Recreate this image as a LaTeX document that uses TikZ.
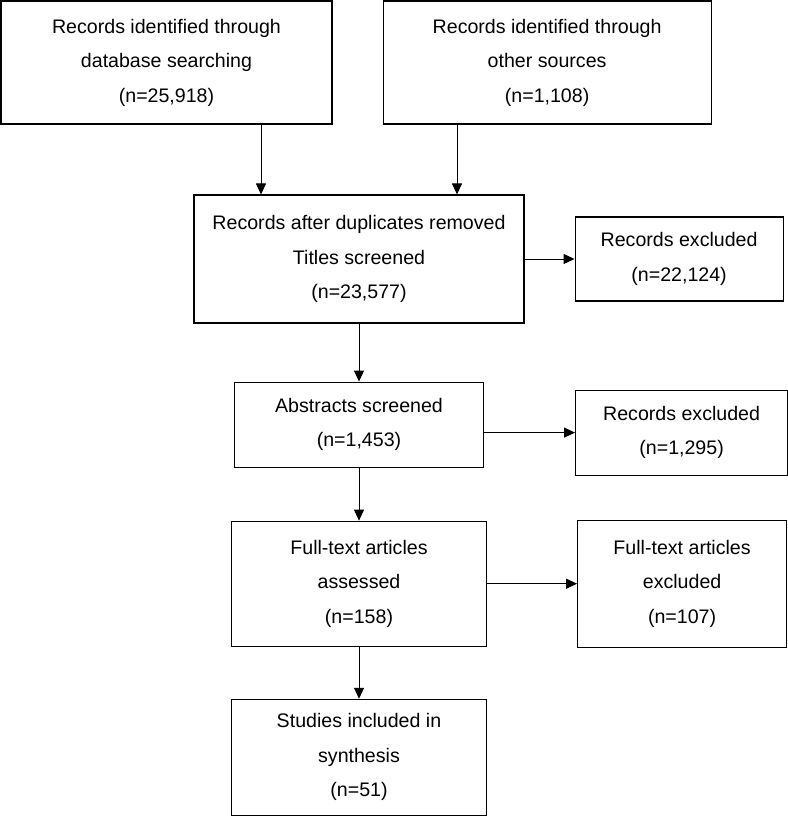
\documentclass[tikz,border=0pt]{standalone}
\usepackage{fontspec}
\setmainfont{Liberation Sans}
\usepackage{tikz}
\usetikzlibrary{positioning}
\usetikzlibrary{arrows.meta}

\begin{document}
\begin{tikzpicture}[node distance=50pt, auto,
    box/.style={draw, rectangle, line width=1.1pt, align=center, inner sep=2pt,
      font=\fontsize{19.6}{34.5}\selectfont},
    flow/.style={-{Triangle[length=11pt,width=10pt]}, line width=1pt}]
    \useasboundingbox (0pt,0pt) rectangle (787pt,-816pt);
    % Nodes
    \node [box, minimum width=331pt, minimum height=123pt] (rec1) at (166.5pt,-62.5pt) {Records identified through\\database searching\\(n=25,918)};
    \node [box, minimum width=328pt, minimum height=123pt, right=50pt of rec1] (rec2) {Records identified through\\other sources\\(n=1,108)};

    \node [box, minimum width=330pt, minimum height=128pt] (dedup) at (359pt,-259pt) {Records after duplicates removed\\Titles screened\\(n=23,577)};
    \node [box, minimum width=208pt, minimum height=84pt, right=50pt of dedup] (excl1) {Records excluded\\(n=22,124)};

    \node [box, minimum width=249pt, minimum height=85pt, below=58pt of dedup] (abstracts) {Abstracts screened\\(n=1,453)};
    \node [box, minimum width=212pt, minimum height=85pt, right=91pt of abstracts, yshift=-8pt] (excl2) {Records excluded\\(n=1,295)};

    \node [box, minimum width=255pt, minimum height=125pt, below=53pt of abstracts] (fulltext) {Full-text articles\\assessed\\(n=158)};
    \node [box, minimum width=209pt, minimum height=127pt, right=90pt of fulltext] (excl3) {Full-text articles\\excluded\\(n=107)};

    \node [box, minimum width=255pt, minimum height=116pt, below=52pt of fulltext] (included) {Studies included in\\synthesis\\(n=51)};
    % Arrows
    \draw [flow] ([xshift=-98pt]dedup.north |- rec1.south) -- ([xshift=-98pt]dedup.north);
    \draw [flow] ([xshift=98pt]dedup.north |- rec2.south) -- ([xshift=98pt]dedup.north);
    \draw [flow] (dedup.east) -- (excl1.west);
    \draw [flow] (dedup) -- (abstracts);
    \draw [flow] (abstracts.east |- excl2.west) -- (excl2.west);
    \draw [flow] (abstracts) -- (fulltext);
    \draw [flow] (fulltext.east) -- (excl3.west);
    \draw [flow] (fulltext) -- (included);
  \end{tikzpicture}
\end{document}
